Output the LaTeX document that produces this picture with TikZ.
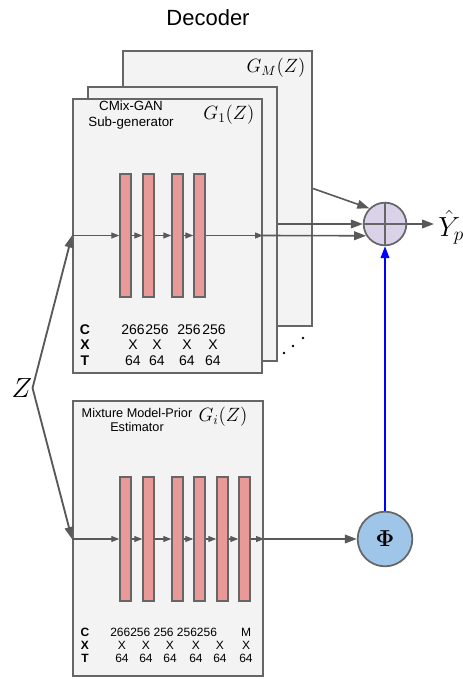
\documentclass[tikz,border=0pt]{standalone}
\usepackage{amsmath}
\usepackage[no-math]{fontspec}
\setmainfont{Liberation Sans}
\usetikzlibrary{arrows.meta, fit, positioning}
\definecolor{caja}{HTML}{F3F3F3}
\definecolor{borde}{HTML}{666666}
\definecolor{capa}{HTML}{EA9999}
\definecolor{suma}{HTML}{D9D2E9}
\definecolor{phiazul}{HTML}{9FC5E8}
\definecolor{gris}{HTML}{595959}
\tikzset{
  genbox/.style={rectangle, draw=borde, fill=caja, line width=1.5pt, inner sep=0pt},
  capabox/.style={rectangle, draw=borde, fill=capa, line width=1.1pt, inner sep=0pt},
  etiq/.style={align=center, inner sep=0pt, font=\fontsize{10}{11.5}\selectfont},
  mathlab/.style={inner sep=0pt, font=\fontsize{14.5}{16}\selectfont},
  flechita/.style={draw=gris, line width=0.8pt, -{Triangle[length=6pt,width=4.5pt]}},
  flecha/.style={draw=gris, line width=1.2pt, -{Triangle[length=9pt,width=6.5pt]}}
}

\begin{document}
\begin{tikzpicture}[x=0.75pt, y=-0.75pt,
    sumacirc/.style={circle, draw=borde, fill=suma, line width=1.3pt, minimum size=32pt, inner sep=0pt,
                     path picture={\draw[borde, line width=1.1pt]
                       (path picture bounding box.north) -- (path picture bounding box.south)
                       (path picture bounding box.west) -- (path picture bounding box.east);}},
    phicirc/.style={circle, draw=borde, fill=phiazul, line width=1.3pt, minimum size=41pt, inner sep=0pt},
    tabla/.style={inner sep=0pt, font=\fontsize{10.5}{12}\selectfont},
    tablita/.style={inner sep=0pt, font=\fontsize{9}{10}\selectfont}]
  \useasboundingbox (0,0) rectangle (463,679);
  \node[font=\fontsize{16.5}{18}\selectfont] (titulo) at (208,18) {Decoder};

  % sub-generators, stacked
  \node[genbox, fit={(123,51) (312,326)}] (gM) {};
  \node[genbox, fit={(88,87) (277,361)}] (g2) {};
  \node[genbox, fit={(73,99) (262,373)}] (g1) {};
  \node[genbox, fit={(73,401) (263,676)}] (gi) {};

  \node[mathlab] (gMlab) at (276,68) {$G_M(Z)$};
  \node[etiq] (g1nombre) at (131,115) {CMix-GAN\\Sub-generator};
  \node[mathlab] (g1lab) at (229,115) {$G_1(Z)$};
  \node[etiq, font=\fontsize{9.5}{10.5}\selectfont] (ginombre) at (137,420) {Mixture Model-Prior\\Estimator};
  \node[mathlab] (gilab) at (223,417) {$G_i(Z)$};

  % layers
  \foreach \x [count=\i] in {120,143,172,194}
    \node[capabox, fit={(\x,174) ({\x+11},297)}] (a\i) {};
  \foreach \x [count=\i] in {120,143,172,194,217,239}
    \node[capabox, fit={(\x,477) ({\x+11},601)}] (b\i) {};

  \draw[flechita] (g1.west |- a1.west) -- (a1.west);
  \foreach \i/\j in {1/2,2/3,3/4}
    \draw[flechita] (a\i.east) -- (a\j.west);
  \draw[flechita] (a4.east) -- (g1.east |- a4.east);
  \draw[flechita] (gi.west |- b1.west) -- (b1.west);
  \foreach \i/\j in {1/2,2/3,3/4,4/5,5/6}
    \draw[flechita] (b\i.east) -- (b\j.west);
  \draw[flechita] (b6.east) -- (gi.east |- b6.east);

  % C X T
  \node[tabla, font=\fontsize{10.5}{12}\bfseries] (c1) at (85,330) {C};
  \node[tabla, font=\fontsize{10.5}{12}\bfseries] (x1) at (85,345) {X};
  \node[tabla, font=\fontsize{10.5}{12}\bfseries] (t1) at (85,361) {T};
  \foreach \x/\v in {133/266,157/256,189/256,214/256}
    \node[tabla] (cv\x) at (\x,330) {\v};
  \foreach \x in {133,157,187,213} {
    \node[tabla] (xv\x) at (\x,345) {X};
    \node[tabla] (tv\x) at (\x,361) {64};
  }
  \node[tablita, font=\fontsize{9}{10}\bfseries] (c2) at (85,632) {C};
  \node[tablita, font=\fontsize{9}{10}\bfseries] (x2) at (85,645) {X};
  \node[tablita, font=\fontsize{9}{10}\bfseries] (t2) at (85,658) {T};
  \node[tablita, anchor=west] (cwfila) at (110,632) {266256 256 256256};
  \node[tablita] (cwM) at (246,632) {M};
  \foreach \x in {122,146,170,196,220,246} {
    \node[tablita] (xw\x) at (\x,645) {X};
    \node[tablita] (tw\x) at (\x,658) {64};
  }

  % dots
  \foreach \p in {(284,353),(293,346),(303,338)}
    \fill[black] \p circle (1.1pt);

  % mixing
  \node[sumacirc] (suma) at (385,224) {};
  \node[phicirc] (phi) at (385,539) {\fontsize{17}{18}\selectfont$\mathbf{\Phi}$};
  \node[inner sep=0pt, anchor=west, font=\fontsize{20}{22}\selectfont] (salida) at (438,227) {$\hat{Y}_p$};
  \node[inner sep=0pt, font=\fontsize{20}{22}\selectfont] (zeta) at (22,388) {$Z$};

  \draw[flecha] (gM.east) -- (suma.135);
  \draw[flecha] (g2.east) -- (suma.west);
  \draw[flecha] (g1.east |- a4.east) -- (suma.212);
  \draw[flecha] (suma.east) -- ([xshift=-3pt]suma.east -| salida.west);
  \draw[flecha] (gi.east |- b6.east) -- (phi.west);
  \draw[flecha, draw=blue] (phi.north) -- (suma.south);
  \draw[flecha, line width=1.4pt] (zeta.east) -- (g1.west |- a1.west);
  \draw[flecha, line width=1.4pt] (zeta.east) -- (gi.west |- b1.west);
\end{tikzpicture}
\end{document}
